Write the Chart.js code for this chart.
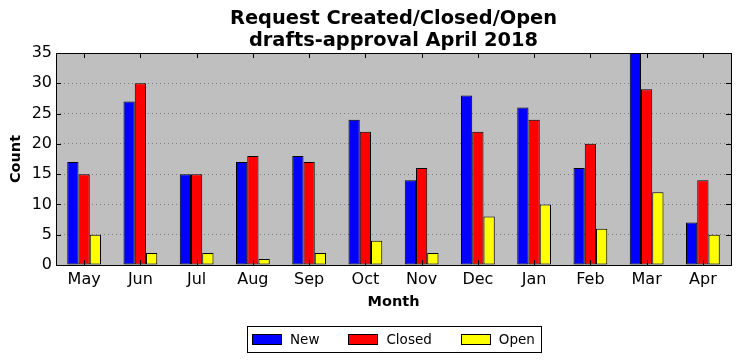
<!DOCTYPE html>
<html>
<head>
<meta charset="utf-8">
<script src="https://cdn.jsdelivr.net/npm/chart.js@4"></script>
<style>
  html, body { margin: 0; padding: 0; background: #fff; }
  #wrap { width: 742px; height: 361px; }
</style>
</head>
<body>
<div id="wrap"><canvas id="c"></canvas></div>
<script>
const months = ["May", "Jun", "Jul", "Aug", "Sep", "Oct", "Nov", "Dec", "Jan", "Feb", "Mar", "Apr"]
const newCounts = [17, 27, 15, 17, 18, 24, 14, 28, 26, 16, 35, 7]
const closedCounts = [15, 30, 15, 18, 17, 22, 16, 22, 24, 20, 29, 14]
const openCounts = [5, 2, 2, 1, 2, 4, 2, 8, 10, 6, 12, 5]
const titleLines = ["Request Created/Closed/Open", "drafts-approval April 2018"]

const font = "'DejaVu Sans', sans-serif"

// plot background, frame, inward ticks, title and boxed legend (matplotlib classic look)
const framePlugin = {
  id: "frame",
  beforeDraw(chart) {
    const { ctx, chartArea: a } = chart
    ctx.save()
    ctx.fillStyle = "#bfbfbf"
    ctx.fillRect(a.left, a.top, a.right - a.left, a.bottom - a.top)
    ctx.restore()
  },
  afterDatasetsDraw(chart) {
    const { ctx, chartArea: a, scales } = chart
    ctx.save()
    ctx.strokeStyle = "#000"
    ctx.lineWidth = 1
    ctx.beginPath()
    scales.x.ticks.forEach((t, i) => {
      const px = Math.round(scales.x.getPixelForTick(i)) + 0.5
      ctx.moveTo(px, a.bottom); ctx.lineTo(px, a.bottom - 5)
      ctx.moveTo(px, a.top); ctx.lineTo(px, a.top + 5)
    })
    scales.y.ticks.forEach((t, i) => {
      const py = Math.round(scales.y.getPixelForTick(i)) + 0.5
      ctx.moveTo(a.left, py); ctx.lineTo(a.left + 5, py)
      ctx.moveTo(a.right, py); ctx.lineTo(a.right - 5, py)
    })
    ctx.stroke()
    ctx.strokeRect(Math.round(a.left) + 0.5, Math.round(a.top) + 0.5,
      Math.round(a.right - a.left), Math.round(a.bottom - a.top))

    const cx = (a.left + a.right) / 2
    ctx.fillStyle = "#000"
    ctx.font = "bold 19.4px " + font
    ctx.textAlign = "center"
    ctx.textBaseline = "middle"
    ctx.fillText(titleLines[0], cx, 19)
    ctx.fillText(titleLines[1], cx, 41)

    // legend
    ctx.font = "13.5px " + font
    const items = chart.data.datasets.map(d => ({ label: d.label, color: d.backgroundColor, w: ctx.measureText(d.label).width }))
    const handleW = 29, handleH = 10, gap = 9, spacing = 29, margin = 5
    const inner = items.reduce((s, it) => s + handleW + gap + it.w, 0) + spacing * (items.length - 1)
    const boxL = Math.round(cx - inner / 2 - margin)
    const boxW = Math.round(inner + margin * 2 + 1)
    const boxT = 326, boxH = 26
    ctx.fillStyle = "#fff"
    ctx.fillRect(boxL, boxT, boxW, boxH)
    ctx.strokeRect(boxL + 0.5, boxT + 0.5, boxW, boxH)
    let x = boxL + margin
    const midY = boxT + boxH / 2
    items.forEach(it => {
      ctx.fillStyle = it.color
      ctx.fillRect(Math.round(x), Math.round(midY - handleH / 2), handleW, handleH)
      ctx.strokeRect(Math.round(x) + 0.5, Math.round(midY - handleH / 2) + 0.5, handleW, handleH)
      ctx.fillStyle = "#000"
      ctx.textAlign = "left"
      ctx.fillText(it.label, x + handleW + gap, midY + 1)
      x += handleW + gap + it.w + spacing
    })
    ctx.restore()
  }
}

new Chart(document.getElementById("c"), {
  type: "bar",
  data: {
    labels: months,
    datasets: [
      { label: "New", data: newCounts, backgroundColor: "#0000ff" },
      { label: "Closed", data: closedCounts, backgroundColor: "#ff0000" },
      { label: "Open", data: openCounts, backgroundColor: "#ffff00" },
    ].map(d => ({ ...d, borderColor: "#000", borderWidth: 1, borderSkipped: false, categoryPercentage: 0.6, barPercentage: 1 })),
  },
  options: {
    responsive: true,
    maintainAspectRatio: false,
    animation: false,
    layout: { padding: { top: 53, right: 11, left: 4, bottom: 0 } },
    plugins: {
      title: { display: false },
      tooltip: { enabled: false },
      legend: { display: false },
    },
    scales: {
      x: {
        afterFit: s => { s.height = 96 },
        grid: { display: false, drawTicks: false },
        border: { display: false },
        ticks: { color: "#000", font: { family: font, size: 16 }, padding: 5, maxRotation: 0 },
        title: { display: true, text: "Month", color: "#000", font: { family: font, size: 14.5, weight: "bold" }, padding: { top: 0, bottom: 50 } },
      },
      y: {
        min: 0,
        max: 35,
        afterFit: s => { s.width = 52 },
        grid: { color: "#7f7f7f", lineWidth: 1, drawTicks: false },
        border: { display: false, dash: [1, 3] },
        ticks: { stepSize: 5, color: "#000", font: { family: font, size: 16 }, padding: 4 },
        title: { display: true, text: "Count", color: "#000", font: { family: font, size: 14.5, weight: "bold" }, padding: { top: 4, bottom: 0 } },
      },
    },
  },
  plugins: [framePlugin],
})
</script>
</body>
</html>
